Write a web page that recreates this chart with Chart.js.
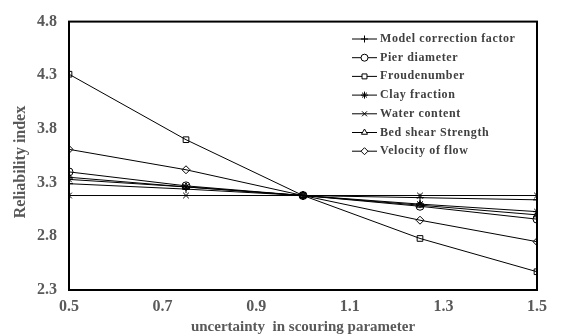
<!DOCTYPE html>
<html>
<head>
<meta charset="utf-8">
<script src="https://cdn.jsdelivr.net/npm/chart.js@4"></script>
<style>
  body { margin: 0; background: #fff; }
  #wrap { width: 563px; height: 336px; }
</style>
</head>
<body>
<div id="wrap"><canvas id="chart" width="563" height="336"></canvas></div>
<script>
// uncertainty factors applied to the scouring parameter
const xValues = [0.5, 0.75, 1.0, 1.25, 1.5];

const seriesNames = ['Model correction factor', 'Pier diameter', 'Froudenumber', 'Clay fraction',
  'Water content', 'Bed shear Strength', 'Velocity of flow'];

const modelCorrection = [3.29, 3.24, 3.18, 3.16, 3.14];
const pierDiameter    = [3.40, 3.27, 3.18, 3.08, 2.96];
const froudeNumber    = [4.31, 3.70, 3.18, 2.78, 2.47];
const clayFraction    = [3.33, 3.26, 3.18, 3.10, 3.03];
const waterContent    = [3.18, 3.18, 3.18, 3.18, 3.18];
const bedShear        = [3.35, 3.26, 3.18, 3.09, 3.00];
const velocityOfFlow  = [3.61, 3.42, 3.18, 2.95, 2.75];

const yTicks = [2.3, 2.8, 3.3, 3.8, 4.3, 4.8];
const xTicks = [0.5, 0.7, 0.9, 1.1, 1.3, 1.5];

const allSeries = [modelCorrection, pierDiameter, froudeNumber, clayFraction, waterContent, bedShear, velocityOfFlow];
const markers = ['cross', 'circle', 'rect', 'star', 'crossRot', 'triangle', 'rectRot'];

const textGrey = '#595959';
const serif = '"Liberation Serif", "Times New Roman", serif';

const datasets = allSeries.map((vals, i) => ({
  label: seriesNames[i],
  data: vals.map((v, j) => ({ x: xValues[j], y: v })),
  borderColor: '#000',
  borderWidth: 1,
  pointStyle: markers[i],
  pointRadius: 4,
  pointBorderColor: '#000',
  pointBackgroundColor: 'rgba(255,255,255,0)',
  pointBorderWidth: 1,
  tension: 0
}));

// frame, y title and the legend with a line through each marker
const framePlugin = {
  id: 'frame',
  afterDraw(chart) {
    const { ctx, chartArea: a } = chart;
    ctx.save();
    ctx.strokeStyle = '#000';
    ctx.lineWidth = 2;
    ctx.strokeRect(a.left, a.top, a.right - a.left, a.bottom - a.top);

    // y axis title
    ctx.save();
    ctx.translate(21, 162);
    ctx.rotate(-Math.PI / 2);
    ctx.font = 'bold 16px ' + serif;
    ctx.fillStyle = textGrey;
    ctx.textAlign = 'center';
    ctx.textBaseline = 'middle';
    ctx.fillText('Reliability index', 0, 0);
    ctx.restore();

    const x0 = 352, x1 = 377, y0 = 39, dy = 18.7;
    ctx.font = 'bold 12px ' + serif;
    ctx.textBaseline = 'middle';
    if ('letterSpacing' in ctx) ctx.letterSpacing = '0.6px';
    chart.data.datasets.forEach((ds, i) => {
      const y = y0 + i * dy;
      ctx.strokeStyle = '#000';
      ctx.lineWidth = 1;
      ctx.beginPath();
      ctx.moveTo(x0, y);
      ctx.lineTo(x1, y);
      ctx.stroke();
      ctx.fillStyle = '#fff';
      Chart.helpers.drawPoint(ctx, { pointStyle: ds.pointStyle, radius: 3.5, rotation: 0, borderWidth: 1 }, (x0 + x1) / 2, y);
      ctx.fillStyle = '#404040';
      ctx.fillText(ds.label, x1 + 3, y);
    });
    ctx.restore();
  }
};

new Chart(document.getElementById('chart'), {
  type: 'line',
  data: { datasets },
  plugins: [framePlugin],
  options: {
    responsive: false,
    animation: false,
    layout: { padding: { top: 16, right: 26, left: 0, bottom: 0 } },
    plugins: { legend: { display: false }, tooltip: { enabled: false } },
    scales: {
      x: {
        type: 'linear',
        min: 0.5,
        max: 1.5,
        afterBuildTicks(s) { s.ticks = xTicks.map(v => ({ value: v })); },
        afterFit(s) { s.height = 46; },
        grid: { display: false, drawTicks: false },
        border: { color: '#000', width: 1.5 },
        ticks: { color: textGrey, font: { family: serif, size: 16, weight: 'bold' }, padding: 7, callback: v => v.toFixed(1) },
        title: { display: true, text: 'uncertainty  in scouring parameter', color: textGrey, font: { family: serif, size: 15, weight: 'bold' }, padding: { top: 0, bottom: 0 } }
      },
      y: {
        min: 2.3,
        max: 4.8,
        afterBuildTicks(s) { s.ticks = yTicks.map(v => ({ value: v })); },
        afterFit(s) { s.width = 69; },
        grid: { display: false, drawTicks: false },
        border: { color: '#000', width: 1.5 },
        ticks: { color: textGrey, font: { family: serif, size: 16, weight: 'bold' }, padding: 12, callback: v => v.toFixed(1) },
        title: { display: false }
      }
    }
  }
});
</script>
</body>
</html>
